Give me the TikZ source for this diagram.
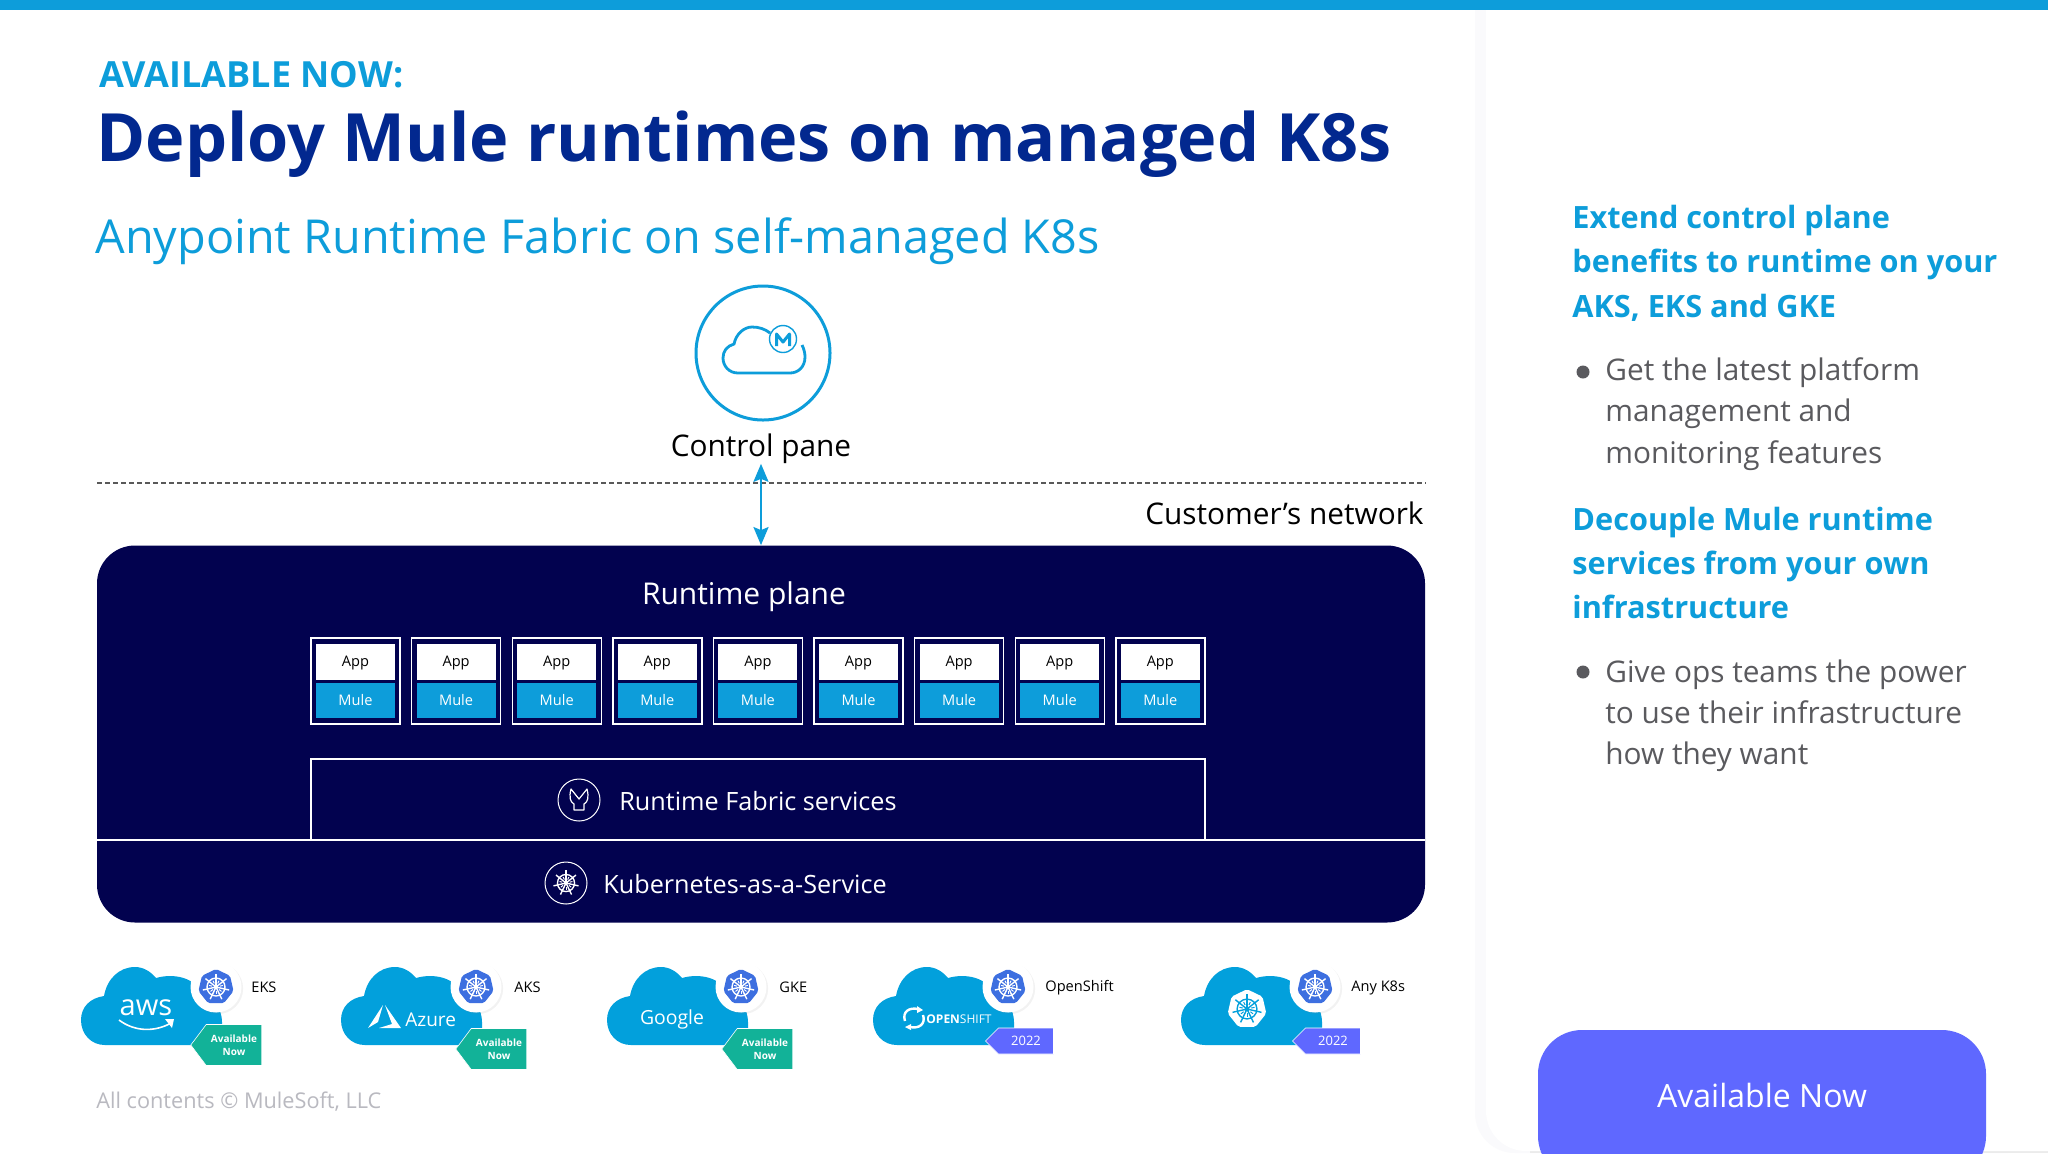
\documentclass[tikz,border=0pt]{standalone}
\usepackage{fontspec}
\usepackage{xcolor}
\usepackage{tikz}
\usetikzlibrary{shapes, shapes.symbols, arrows.meta, positioning, shadows}
\setmainfont{Open Sans}

\definecolor{barblue}{HTML}{0D9DDA}
\definecolor{titlenavy}{HTML}{02288F}
\definecolor{planenavy}{HTML}{02024F}
\definecolor{cloudblue}{HTML}{02A0DC}
\definecolor{helmblue}{HTML}{3D6FE0}
\definecolor{tagteal}{HTML}{12B298}
\definecolor{tagviolet}{HTML}{5F68FF}
\definecolor{bodygrey}{HTML}{5A5A5E}
\definecolor{notegrey}{HTML}{B9B9C0}
\definecolor{panelshade}{HTML}{FAFAFC}

\begin{document}
\begin{tikzpicture}[
    x=0.5pt,
    y=-0.5pt,
    inner sep=0pt,
    heading/.style={
        anchor=west,
        align=left,
        text=barblue,
        font=\fontsize{15.35}{22.2}\selectfont\bfseries
    },
    bodytext/.style={
        anchor=west,
        align=left,
        text=bodygrey,
        font=\fontsize{14.9}{20.6}\selectfont
    },
    bullet/.style={
        circle,
        fill=bodygrey,
        minimum size=6.5pt
    },
    planetext/.style={
        text=white,
        font=\fontsize{12.6}{15}\selectfont
    },
    darktext/.style={
        text=black,
        font=\fontsize{14.9}{18}\selectfont
    },
    appframe/.style={
        rectangle,
        draw=white,
        line width=0.7pt,
        minimum width=44.5pt,
        minimum height=43pt
    },
    appbox/.style={
        rectangle,
        fill=white,
        minimum width=39.5pt,
        minimum height=18pt,
        text depth=0pt,
        text=black,
        font=\fontsize{7.3}{9}\selectfont
    },
    mulebox/.style={
        rectangle,
        fill=barblue,
        minimum width=39.5pt,
        minimum height=17.5pt,
        node distance=19.5pt,
        text=white,
        font=\fontsize{7.3}{9}\selectfont
    },
    iconring/.style={
        circle,
        draw=white,
        line width=0.5pt,
        minimum size=21pt
    },
    badge/.style={
        circle,
        fill=white,
        minimum size=25.5pt,
        drop shadow={opacity=0.1, shadow xshift=0.8pt, shadow yshift=-0.8pt}
    },
    tagnow/.style={
        signal,
        signal to=west,
        signal from=nowhere,
        signal pointer angle=106,
        fill=tagteal,
        draw=white,
        line width=0.3pt,
        minimum width=35.5pt,
        minimum height=20.5pt,
        align=center,
        text=white,
        font=\fontsize{5}{6.5}\selectfont\bfseries
    },
    tagyear/.style={
        signal,
        signal to=west,
        signal from=nowhere,
        signal pointer angle=90,
        fill=tagviolet,
        draw=white,
        line width=0.3pt,
        minimum width=34pt,
        minimum height=13pt,
        text=white,
        font=\fontsize{6.5}{8}\selectfont
    },
    cloudtag/.style={
        text=black,
        font=\fontsize{7.3}{9}\selectfont
    },
    line/.style={
        draw=barblue,
        line width=1.2pt,
        {Stealth[length=9pt,width=7.5pt,inset=1.5pt]}-{Stealth[length=9pt,width=7.5pt,inset=1.5pt]}
    },
    pics/cloudshape/.style={code={
        \fill[cloudblue] (24,78) .. controls (10,78) and (0,67) .. (0,53)
            .. controls (0,40) and (9,31) .. (23,29)
            .. controls (26,12) and (38,0) .. (54,0)
            .. controls (63,0) and (70,5) .. (75,11)
            .. controls (92,6) and (115,10) .. (121,28)
            .. controls (133,31) and (141,42) .. (141,55)
            -- (141,78) -- cycle;
    }},
    pics/helm/.style 2 args={code={
        \fill[#1, rounded corners=1pt] (270:18) -- (321.4:18) -- (12.9:18) -- (64.3:18)
            -- (115.7:18) -- (167.1:18) -- (218.6:18) -- cycle;
        \draw[#2, line width=0.7pt] (0,0) circle (9);
        \fill[#2] (0,0) circle (2.2);
        \foreach \spoke in {270,321.4,12.9,64.3,115.7,167.1,218.6} {
            \draw[#2, line width=0.7pt] (0,0) -- (\spoke:13.5);
            \draw[#2, line width=0.5pt] (\spoke+180:4) -- (\spoke+180:7);
        }
    }}
]
\useasboundingbox (0,0) rectangle (2048,1153);

% Background and side panel
\fill[white] (0,0) rectangle (2048,1153);
\fill[panelshade, rounded corners=20pt] (1475,-40) -- (1475,1153) -- (2048,1153) -- (2048,-40) -- cycle;
\fill[black!8] (1530,1150) rectangle (2048,1153);
\fill[white, rounded corners=20pt] (1486,-40) -- (1486,1151) -- (2100,1151) -- (2100,-40) -- cycle;
\fill[barblue] (0,0) rectangle (2048,9.5);

% Titles
\node [anchor=base west, text=barblue, font=\fontsize{18}{22}\selectfont\bfseries] (available) at (99,87) {AVAILABLE NOW:};
\node [anchor=base west, text=titlenavy, font=\fontsize{33.3}{40}\selectfont\bfseries] (title) at (96,161) {Deploy Mule runtimes on managed K8s};
\node [anchor=base west, text=barblue, font=\fontsize{23.4}{29}\selectfont] (subtitle) at (95,253) {Anypoint Runtime Fabric on self-managed K8s};

% Control plane icon
\node [circle, draw=barblue, line width=1.5pt, minimum size=67pt] (control) at (763,353) {};
\draw[barblue, line width=1.4pt] (802,345) .. controls (804,349) and (805,353) .. (805,357)
    .. controls (805,367) and (798,373) .. (790,373) -- (738,373)
    .. controls (729,373) and (723,366) .. (723,358)
    .. controls (723,351) and (727,346) .. (734,344)
    .. controls (736,334) and (744,327) .. (752,327)
    .. controls (759,327) and (765,329) .. (770,333);
\node [circle, draw=barblue, line width=0.7pt, minimum size=13.5pt] (mulering) at (783,339) {};
\draw[barblue, line width=1.5pt, line join=round] (776.5,346) -- (776.5,334) -- (783,342) -- (789.5,334) -- (789.5,346);
\node [darktext, inner sep=0pt] (controlpane) at (761,448.5) {Control pane};

% Customer network boundary
\coordinate (dashleft) at (97,483);
\coordinate (dashright) at (1426,483);
\draw[black!65, line width=0.6pt, dash pattern=on 2.6pt off 1.4pt] (dashleft) -- (dashright);
\node [darktext, anchor=east] (customer) at (1424,513) {Customer’s network};

% Runtime plane
\node [rectangle, rounded corners=19pt, fill=planenavy, minimum width=664pt, minimum height=188.5pt] (runtime) at (761,734) {};
\node [planetext, font=\fontsize{15}{18}\selectfont] (planelabel) at (744,596.5) {Runtime plane};
\path [line] (controlpane) -- (runtime);

\foreach \i in {0,...,8} {
    \node [appframe] (frame\i) at ({355.5+100.6*\i},681) {};
    \node [appbox] (app\i) at ({355.5+100.6*\i},661.5) {App};
    \node [mulebox, below of=app\i] (mule\i) {Mule};
}

\node [rectangle, draw=white, line width=0.7pt, minimum width=447pt, minimum height=40.5pt] (fabric) at (758,799.5) {};
\coordinate (kaasleft) at (97,840);
\coordinate (kaasright) at (1425,840);
\draw[white, line width=0.7pt] (kaasleft) -- (kaasright);

\node [iconring] (fabricring) at (579,800) {};
\draw[white, line width=0.6pt, line join=round] (571,789) .. controls (569,797) and (570,802) .. (574,804)
    -- (574,810) -- (584,810) -- (584,804) .. controls (588,802) and (589,797) .. (587,789)
    -- (579,799) -- cycle;
\node [planetext, anchor=west] (fabriclabel) at (619,801) {Runtime Fabric services};

\node [iconring] (kaasring) at (566,883) {};
\pic [scale=0.95] at (566,883) {helm={planenavy}{white}};
\node [planetext, anchor=west] (kaaslabel) at (603,884) {Kubernetes-as-a-Service};

% EKS
\pic at (81,967) {cloudshape};
\node [badge] (badgeeks) at (216,987) {};
\pic at (216,987) {helm={helmblue}{white}};
\node [tagnow] (tageks) at (234,1045) {Available\\Now};
\node [cloudtag, anchor=west] (labeleks) at (251,987) {EKS};
\node [text=white, font=\fontsize{14.5}{16}\selectfont] (aws) at (146,1008) {aws};
\draw[white, line width=0.8pt] (119,1020) .. controls (135,1032) and (155,1032) .. (171,1023);
\fill[white] (165,1019) -- (174,1019) -- (172,1028) -- cycle;

% AKS
\pic at (341,967) {cloudshape};
\node [badge] (badgeaks) at (476,987) {};
\pic at (476,987) {helm={helmblue}{white}};
\node [tagnow] (tagaks) at (499,1049) {Available\\Now};
\node [cloudtag, anchor=west] (labelaks) at (514,987) {AKS};
\fill[white] (368,1028) -- (383,1005) -- (378,1022) -- cycle;
\fill[white] (385,1005) -- (401,1028) -- (379,1028) -- (392,1024) -- cycle;
\node [anchor=west, text=white, font=\fontsize{9.5}{11}\selectfont] (azure) at (405,1020) {Azure};

% GKE
\pic at (607,967) {cloudshape};
\node [badge] (badgegke) at (741,987) {};
\pic at (741,987) {helm={helmblue}{white}};
\node [tagnow] (taggke) at (765,1049) {Available\\Now};
\node [cloudtag, anchor=west] (labelgke) at (779,987) {GKE};
\node [text=white, font=\fontsize{9.7}{11}\selectfont] (google) at (672,1019) {Google};

% OpenShift
\pic at (873,967) {cloudshape};
\node [badge] (badgeshift) at (1008,987) {};
\pic at (1008,987) {helm={helmblue}{white}};
\node [tagyear] (tagshift) at (1026,1041) {2022};
\node [cloudtag, anchor=west] (labelshift) at (1045,987.5) {OpenShift};
\draw[white, line width=1.2pt] (905,1021) .. controls (902,1012) and (909,1007) .. (918,1009);
\draw[white, line width=1.2pt] (923,1015) .. controls (926,1024) and (919,1029) .. (910,1027);
\fill[white] (917,1006) -- (923,1010) -- (917,1013) -- cycle;
\fill[white] (911,1024) -- (905,1027) -- (911,1030) -- cycle;
\node [anchor=west, text=white, font=\fontsize{6}{7}\selectfont] (shiftlogo) at (926,1019) {\textbf{OPEN}SHIFT};

% Any K8s
\pic at (1181,967) {cloudshape};
\node [badge] (badgeany) at (1315,987) {};
\pic at (1315,987) {helm={helmblue}{white}};
\node [tagyear] (tagany) at (1333,1041) {2022};
\node [cloudtag, anchor=west] (labelany) at (1351,987.5) {Any K8s};
\pic [scale=1.1] at (1247,1009) {helm={white}{cloudblue}};

\node [anchor=west, text=notegrey, font=\fontsize{10.85}{13}\selectfont] (contents) at (96,1102) {All contents © MuleSoft, LLC};

% Right column
\node [heading] (extend) at (1572,263) {Extend control plane\\benefits to runtime on your\\AKS, EKS and GKE};
\node [bullet] (dotone) at (1583,372) {};
\node [bodytext] (latest) at (1605,414) {Get the latest platform\\management and\\monitoring features};
\node [heading] (decouple) at (1572,563) {Decouple Mule runtime\\services from your own\\infrastructure};
\node [bullet] (dottwo) at (1583,672) {};
\node [bodytext] (ops) at (1605,716) {Give ops teams the power\\to use their infrastructure\\how they want};

\fill[tagviolet, rounded corners=22pt] (1538,1180) -- (1538,1030) -- (1986,1030) -- (1986,1180) -- cycle;
\node [text=white, font=\fontsize{16}{19}\selectfont] (availablebtn) at (1762,1095) {Available Now};

\end{tikzpicture}
\end{document}
